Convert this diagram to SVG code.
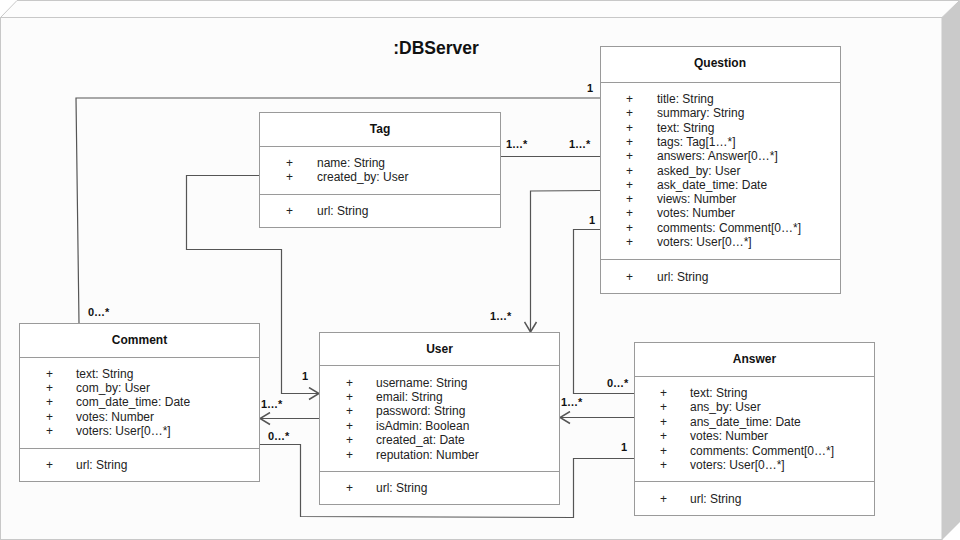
<svg xmlns="http://www.w3.org/2000/svg" width="960" height="540" viewBox="0 0 960 540">
<style>
.box{fill:#ffffff;stroke:#9a9a9a;stroke-width:1}
.div{stroke:#9a9a9a;stroke-width:1}
.t{font-family:"Liberation Sans",Arial,sans-serif;font-size:12px;fill:#222}
.h{font-family:"Liberation Sans",Arial,sans-serif;font-size:12px;font-weight:bold;fill:#111;text-anchor:middle}
.m{font-family:"Liberation Sans",Arial,sans-serif;font-size:11px;font-weight:bold;fill:#111}
.c{fill:none;stroke:#555;stroke-width:1.2}
</style>
<defs>
<marker id="arr" viewBox="0 0 12 14" refX="11" refY="7" markerWidth="12" markerHeight="14" orient="auto" markerUnits="userSpaceOnUse">
<path d="M1,1 L11,7 L1,13" fill="none" stroke="#555" stroke-width="1.5"/>
</marker>
</defs>
<g id="frame">
<rect x="0.5" y="17.5" width="941.5" height="522" fill="#fcfcfc" stroke="#c8c8c8"/>
<polygon points="0.5,17.5 17,0.5 959.5,0.5 942,17.5" fill="#fdfdfd" stroke="#c8c8c8"/>
<polygon points="942,17.5 960,0 960,522 942,540" fill="#cacaca"/>
<text x="436" y="54" font-family="'Liberation Sans',Arial,sans-serif" font-size="17.5" font-weight="bold" fill="#111" text-anchor="middle">:DBServer</text>
</g>
<g id="connectors">
<polyline class="c" points="600,98 76,98 79,323"/>
<line class="c" x1="500.5" y1="156.5" x2="600" y2="156.5"/>
<polyline class="c" points="600,190.5 530.5,191 530.5,332" marker-end="url(#arr)"/>
<polyline class="c" points="600,229.5 573.5,229.5 573.5,393.5 635,393.5"/>
<line class="c" x1="635" y1="417.5" x2="560" y2="417.5" marker-end="url(#arr)"/>
<polyline class="c" points="635,458.5 573.5,458.5 573.5,517.5 300.5,516.5 300.5,444.5 260,444.5"/>
<polyline class="c" points="259,175.5 186.5,175.5 186.5,249.5 281.5,249.5 281.5,393.5 319,393.5" marker-end="url(#arr)"/>
<line class="c" x1="319" y1="418.5" x2="260" y2="418.5" marker-end="url(#arr)"/>
<text class="m" x="593" y="92" text-anchor="end">1</text>
<text class="m" x="88" y="316">0…*</text>
<text class="m" x="506" y="148">1…*</text>
<text class="m" x="569" y="148">1…*</text>
<text class="m" x="490" y="320">1…*</text>
<text class="m" x="595" y="224" text-anchor="end">1</text>
<text class="m" x="607" y="387">0…*</text>
<text class="m" x="561" y="406">1…*</text>
<text class="m" x="627" y="451" text-anchor="end">1</text>
<text class="m" x="268" y="440">0…*</text>
<text class="m" x="302" y="380">1</text>
<text class="m" x="261" y="408">1…*</text>
</g>
<g id="Question">
<rect class="box" x="600.5" y="46.5" width="240" height="247"/>
<line class="div" x1="600.5" y1="82.5" x2="840.5" y2="82.5"/>
<line class="div" x1="600.5" y1="259.5" x2="840.5" y2="259.5"/>
<text class="h" x="720" y="67">Question</text>
<g class="t">
<text x="626" y="103">+</text><text x="657" y="103">title: String</text>
<text x="626" y="117.3">+</text><text x="657" y="117.3">summary: String</text>
<text x="626" y="131.6">+</text><text x="657" y="131.6">text: String</text>
<text x="626" y="145.9">+</text><text x="657" y="145.9">tags: Tag[1…*]</text>
<text x="626" y="160.2">+</text><text x="657" y="160.2">answers: Answer[0…*]</text>
<text x="626" y="174.5">+</text><text x="657" y="174.5">asked_by: User</text>
<text x="626" y="188.8">+</text><text x="657" y="188.8">ask_date_time: Date</text>
<text x="626" y="203.1">+</text><text x="657" y="203.1">views: Number</text>
<text x="626" y="217.4">+</text><text x="657" y="217.4">votes: Number</text>
<text x="626" y="231.7">+</text><text x="657" y="231.7">comments: Comment[0…*]</text>
<text x="626" y="246">+</text><text x="657" y="246">voters: User[0…*]</text>
<text x="626" y="280.5">+</text><text x="657" y="280.5">url: String</text>
</g>
</g>
<g id="Tag">
<rect class="box" x="259.5" y="112.5" width="241" height="115"/>
<line class="div" x1="259.5" y1="146.5" x2="500.5" y2="146.5"/>
<line class="div" x1="259.5" y1="194.5" x2="500.5" y2="194.5"/>
<text class="h" x="380" y="133">Tag</text>
<g class="t">
<text x="286" y="167">+</text><text x="317" y="167">name: String</text>
<text x="286" y="181">+</text><text x="317" y="181">created_by: User</text>
<text x="286" y="214.5">+</text><text x="317" y="214.5">url: String</text>
</g>
</g>
<g id="Comment">
<rect class="box" x="19.5" y="323.5" width="240" height="158"/>
<line class="div" x1="19.5" y1="357.5" x2="259.5" y2="357.5"/>
<line class="div" x1="19.5" y1="448.5" x2="259.5" y2="448.5"/>
<text class="h" x="139.5" y="344">Comment</text>
<g class="t">
<text x="46" y="377.5">+</text><text x="76" y="377.5">text: String</text>
<text x="46" y="391.9">+</text><text x="76" y="391.9">com_by: User</text>
<text x="46" y="406.3">+</text><text x="76" y="406.3">com_date_time: Date</text>
<text x="46" y="420.7">+</text><text x="76" y="420.7">votes: Number</text>
<text x="46" y="435.1">+</text><text x="76" y="435.1">voters: User[0…*]</text>
<text x="46" y="469">+</text><text x="76" y="469">url: String</text>
</g>
</g>
<g id="User">
<rect class="box" x="319.5" y="332.5" width="240" height="172"/>
<line class="div" x1="319.5" y1="365.5" x2="559.5" y2="365.5"/>
<line class="div" x1="319.5" y1="471.5" x2="559.5" y2="471.5"/>
<text class="h" x="439.5" y="353">User</text>
<g class="t">
<text x="346" y="386.5">+</text><text x="376" y="386.5">username: String</text>
<text x="346" y="400.9">+</text><text x="376" y="400.9">email: String</text>
<text x="346" y="415.3">+</text><text x="376" y="415.3">password: String</text>
<text x="346" y="429.7">+</text><text x="376" y="429.7">isAdmin: Boolean</text>
<text x="346" y="444.1">+</text><text x="376" y="444.1">created_at: Date</text>
<text x="346" y="458.5">+</text><text x="376" y="458.5">reputation: Number</text>
<text x="346" y="492">+</text><text x="376" y="492">url: String</text>
</g>
</g>
<g id="Answer">
<rect class="box" x="634.5" y="342.5" width="240" height="173"/>
<line class="div" x1="634.5" y1="376.5" x2="874.5" y2="376.5"/>
<line class="div" x1="634.5" y1="481.5" x2="874.5" y2="481.5"/>
<text class="h" x="754.5" y="363">Answer</text>
<g class="t">
<text x="660" y="397">+</text><text x="690" y="397">text: String</text>
<text x="660" y="411.4">+</text><text x="690" y="411.4">ans_by: User</text>
<text x="660" y="425.8">+</text><text x="690" y="425.8">ans_date_time: Date</text>
<text x="660" y="440.2">+</text><text x="690" y="440.2">votes: Number</text>
<text x="660" y="454.6">+</text><text x="690" y="454.6">comments: Comment[0…*]</text>
<text x="660" y="469">+</text><text x="690" y="469">voters: User[0…*]</text>
<text x="660" y="502.5">+</text><text x="690" y="502.5">url: String</text>
</g>
</g>
</svg>
